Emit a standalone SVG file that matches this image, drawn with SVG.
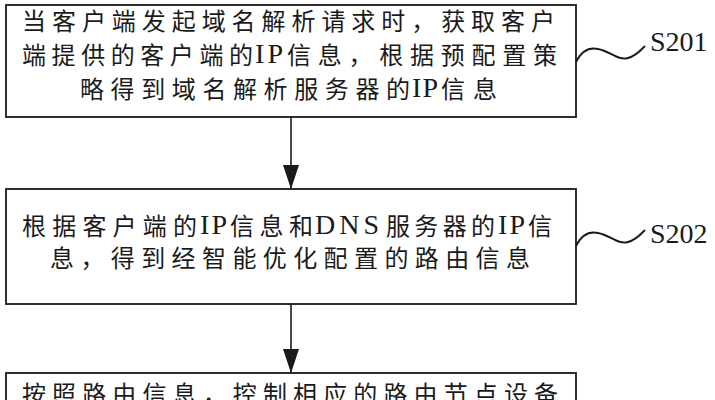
<svg xmlns="http://www.w3.org/2000/svg" width="715" height="400" viewBox="0 0 715 400">
<style>
.box{fill:#fff;stroke:#1a1a1a;stroke-width:1.8}
.t{font-family:"Liberation Serif","Noto Sans CJK SC",serif;font-size:24px;fill:#1a1a1a}
.la{font-family:"Liberation Serif","Noto Sans CJK SC",serif;font-size:28px;fill:#1a1a1a}
.lbl{font-family:"Liberation Serif","Noto Sans CJK SC",serif;font-size:28px;fill:#1a1a1a}
.conn{stroke:#1a1a1a;stroke-width:1.6;fill:none}
.wave{stroke:#1a1a1a;stroke-width:2;fill:none}
</style>
<defs>
<marker id="ah" markerUnits="userSpaceOnUse" viewBox="0 -8 24 16" refX="24" refY="0" markerWidth="24" markerHeight="16" orient="auto">
<path d="M0,-8 L24,0 L0,8 Z" fill="#1a1a1a"/>
</marker>
</defs>
<rect width="715" height="400" fill="#fff"/>
<g id="step1">
<rect class="box" x="6" y="5" width="570" height="112"/>
<text class="t" x="22" y="30" textLength="533" lengthAdjust="spacing">当客户端发起域名解析请求时，获取客户</text>
<text class="t" x="22" y="64" textLength="231" lengthAdjust="spacing">端提供的客户端的</text>
<text class="la" x="255" y="63" textLength="28" lengthAdjust="spacing">IP</text>
<text class="t" x="287" y="64" textLength="270" lengthAdjust="spacing">信息，根据预配置策</text>
<text class="t" x="80" y="98" textLength="330" lengthAdjust="spacing">略得到域名解析服务器的</text>
<text class="la" x="412" y="97" textLength="26" lengthAdjust="spacing">IP</text>
<text class="t" x="441" y="98" textLength="56" lengthAdjust="spacing">信息</text>
</g>
<g id="label1">
<path class="wave" d="M576,62 C581,52 588,47 598,49 C610,51 618,61 628,58 C636,56 641,50 645,46"/>
<text class="lbl" x="650" y="51">S201</text>
</g>
<g id="step2">
<rect class="box" x="6" y="189" width="570" height="115"/>
<text class="t" x="22" y="235" textLength="175" lengthAdjust="spacing">根据客户端的</text>
<text class="la" x="200" y="234" textLength="27" lengthAdjust="spacing">IP</text>
<text class="t" x="230" y="235" textLength="83" lengthAdjust="spacing">信息和</text>
<text class="la" x="315" y="234" font-size="30" textLength="64" lengthAdjust="spacing">DNS</text>
<text class="t" x="386" y="235" textLength="109" lengthAdjust="spacing">服务器的</text>
<text class="la" x="498" y="234" textLength="27" lengthAdjust="spacing">IP</text>
<text class="t" x="528" y="235">信</text>
<text class="t" x="50" y="267" textLength="480" lengthAdjust="spacing">息，得到经智能优化配置的路由信息</text>
</g>
<g id="label2">
<path class="wave" d="M576,246 C581,236 588,231 598,233 C610,235 618,245 628,242 C636,240 641,234 645,230"/>
<text class="lbl" x="650" y="243">S202</text>
</g>
<g id="step3">
<rect class="box" x="6" y="373" width="570" height="40"/>
<text class="t" x="22" y="403" textLength="536" lengthAdjust="spacing">按照路由信息，控制相应的路由节点设备</text>
</g>
<g id="connectors">
<line class="conn" x1="291" y1="117" x2="291" y2="189" marker-end="url(#ah)"/>
<line class="conn" x1="291" y1="304" x2="291" y2="373" marker-end="url(#ah)"/>
</g>
</svg>
